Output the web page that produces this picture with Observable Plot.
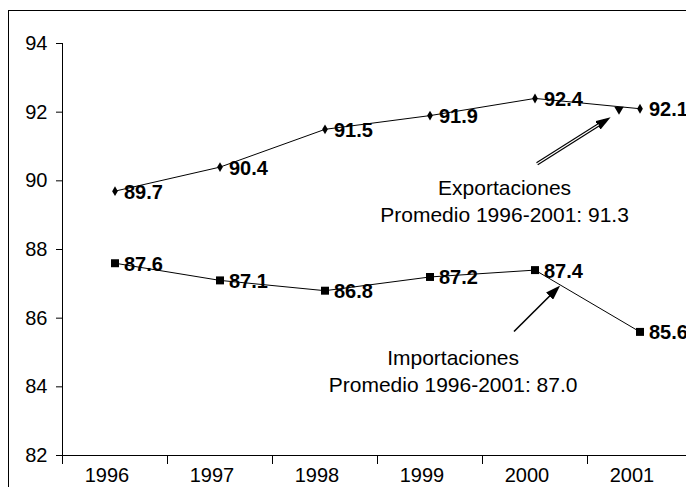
<!DOCTYPE html>
<html><head><meta charset="utf-8">
<script src="https://cdn.jsdelivr.net/npm/d3@7"></script>
<script src="https://cdn.jsdelivr.net/npm/@observablehq/plot@0.6"></script>
<style>
html,body{margin:0;padding:0;background:#fff;overflow:hidden;}
#wrap{position:relative;width:686px;height:487px;overflow:hidden;background:#fff;}
#frame{position:absolute;left:8px;top:10px;width:720px;height:520px;border-left:1px solid #000;border-top:1.5px solid #000;pointer-events:none;z-index:2;}
</style></head><body><div id="wrap"><div id="frame"></div></div>
<script>
const years = [1996, 1997, 1998, 1999, 2000, 2001];
const exportaciones = [89.7, 90.4, 91.5, 91.9, 92.4, 92.1];
const importaciones = [87.6, 87.1, 86.8, 87.2, 87.4, 85.6];
const yTicks = [82, 84, 86, 88, 90, 92, 94];
const notes = [
  {text: "Exportaciones\nPromedio 1996-2001: 91.3", x: 1999.71, y: 89.44},
  {text: "Importaciones\nPromedio 1996-2001: 87.0", x: 1999.22, y: 84.49}
];
const arrowExp = [{x1: 2000.02, y1: 90.5, x2: 2000.72, y2: 91.85}];
const arrowImp = [{x1: 1999.80, y1: 85.61, x2: 2000.24, y2: 86.95}];
const extraMarker = [{x: 2000.80, y: 92.08}];

const exp = years.map((yr, i) => ({year: yr, value: exportaciones[i]}));
const imp = years.map((yr, i) => ({year: yr, value: importaciones[i]}));
const bounds = [years[0] - 0.5, ...years.map(y => y + 0.5)];
const font = "'Liberation Sans', Arial, sans-serif";
const lbl = {x: "year", y: "value", text: d => d.value.toFixed(1), dx: 9, dy: 1, textAnchor: "start", fontWeight: "bold", fontSize: 20, fill: "#000"};

const svg = Plot.plot({
  width: 686, height: 487,
  marginLeft: 62, marginRight: 0, marginTop: 43, marginBottom: 32,
  style: {fontFamily: font, background: "#fff", color: "#000"},
  x: {type: "linear", domain: [1995.5, 2001.5], range: [62, 692], label: null},
  y: {domain: [82, 94], range: [455, 43], label: null},
  marks: [
    Plot.ruleY([82], {stroke: "#000"}),
    Plot.ruleX([1995.5], {y1: 82, y2: 94, stroke: "#000"}),
    Plot.axisY({ticks: yTicks, tickSize: 6, tickPadding: 9, fontSize: 20, tickFormat: d => String(d)}),
    Plot.axisX({ticks: bounds, tickSize: 9, tickFormat: () => ""}),
    Plot.axisX({ticks: years, tickSize: 0, tickPadding: 12, fontSize: 20, dx: -8, tickFormat: d => String(d)}),
    Plot.line(exp, {x: "year", y: "value", stroke: "#000", strokeWidth: 1}),
    Plot.line(imp, {x: "year", y: "value", stroke: "#000", strokeWidth: 1}),
    Plot.dot(exp, {x: "year", y: "value", symbol: "diamond", r: 3, fill: "#000", stroke: "none"}),
    Plot.dot(imp, {x: "year", y: "value", symbol: "square", r: 4.5, fill: "#000", stroke: "none"}),
    Plot.dot(extraMarker, {x: "x", y: "y", symbol: "triangle", r: 3.5, rotate: 180, fill: "#000", stroke: "none"}),
    Plot.text(exp, lbl),
    Plot.text(imp, lbl),
    Plot.link(arrowExp, {x1: "x1", y1: "y1", x2: "x2", y2: "y2", stroke: "#000", strokeWidth: 3.5}),
    Plot.link(arrowExp, {x1: "x1", y1: "y1", x2: "x2", y2: "y2", stroke: "#fff", strokeWidth: 1.2}),
    Plot.link(arrowImp, {x1: "x1", y1: "y1", x2: "x2", y2: "y2", stroke: "#000", strokeWidth: 1.6}),
    Plot.text(notes, {x: "x", y: "y", text: "text", fontSize: 21, lineHeight: 1.25, textAnchor: "middle", fill: "#000"})
  ]
});
const wrap = document.getElementById("wrap");
wrap.insertBefore(svg, wrap.firstChild);

// filled arrow heads
const ns = "http://www.w3.org/2000/svg";
const defs = document.createElementNS(ns, "defs");
const mk = document.createElementNS(ns, "marker");
mk.setAttribute("id", "ahead");
mk.setAttribute("viewBox", "0 0 15 10");
mk.setAttribute("refX", "15");
mk.setAttribute("refY", "5");
mk.setAttribute("markerWidth", "15");
mk.setAttribute("markerHeight", "10");
mk.setAttribute("markerUnits", "userSpaceOnUse");
mk.setAttribute("orient", "auto");
const hp = document.createElementNS(ns, "path");
hp.setAttribute("d", "M0,0L15,5L0,10Z");
hp.setAttribute("fill", "#000");
mk.appendChild(hp);
defs.appendChild(mk);
svg.insertBefore(defs, svg.firstChild);
const links = svg.querySelectorAll('g[aria-label="link"]');
links.forEach((g, i) => {
  g.querySelectorAll("path").forEach(p => {
    const len = p.getTotalLength();
    if (i === 1) {
      p.setAttribute("stroke-dasharray", `${len - 14} 1000`);
    } else {
      p.setAttribute("stroke-dasharray", `${len - 6} 1000`);
      const m = document.createElementNS(ns, "path");
      m.setAttribute("d", p.getAttribute("d"));
      m.setAttribute("fill", "none");
      m.setAttribute("stroke", "none");
      m.setAttribute("marker-end", "url(#ahead)");
      g.appendChild(m);
    }
  });
});
</script>
</body></html>
